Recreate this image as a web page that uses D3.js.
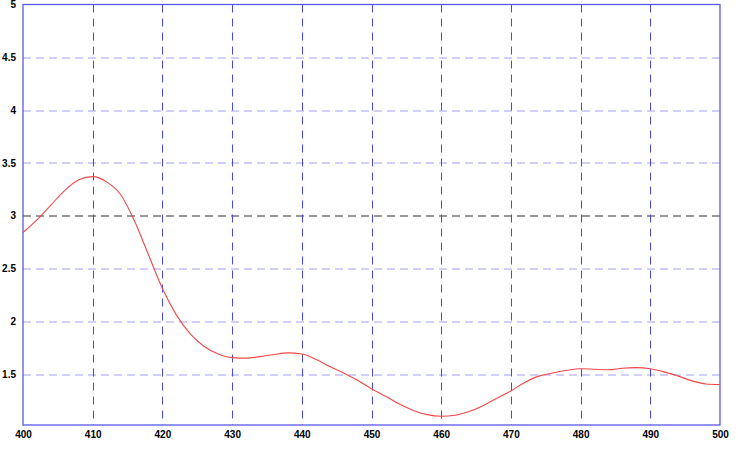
<!DOCTYPE html>
<html>
<head>
<meta charset="utf-8">
<script src="https://cdn.jsdelivr.net/npm/d3@7"></script>
<style>
  body { margin: 0; background: #fff; }
  .axis text { font-family: Arial, "Liberation Sans", sans-serif; font-size: 10px; font-weight: bold; fill: #000; }
  .axis path, .axis line { display: none; }
</style>
</head>
<body>
<svg width="738" height="449"></svg>
<script>
// spectrum (wavelength nm -> value)
const wavelength = [400, 402, 404, 406, 408, 410, 412, 414, 416, 418,
                    420, 422, 424, 426, 428, 430, 432, 434, 436, 438,
                    440, 442, 444, 446, 448, 450, 452, 454, 456, 458,
                    460, 462, 464, 466, 468, 470, 472, 474, 476, 478,
                    480, 482, 484, 486, 488, 490, 492, 494, 496, 498, 500];
const values = [2.84, 2.96, 3.10, 3.24, 3.34, 3.37, 3.32, 3.20, 2.95, 2.63,
                2.31, 2.06, 1.88, 1.76, 1.69, 1.655, 1.65, 1.665, 1.685, 1.70,
                1.69, 1.64, 1.57, 1.51, 1.44, 1.36, 1.29, 1.215, 1.155, 1.115,
                1.10, 1.11, 1.145, 1.20, 1.27, 1.34, 1.42, 1.48, 1.51, 1.535,
                1.55, 1.545, 1.54, 1.555, 1.56, 1.55, 1.52, 1.48, 1.435, 1.405, 1.40];
const xTicks = [400, 410, 420, 430, 440, 450, 460, 470, 480, 490, 500];
const yTicks = [1.5, 2, 2.5, 3, 3.5, 4, 4.5, 5];

const margin = {top: 4.5, right: 18, bottom: 24, left: 23};
const width = 738 - margin.left - margin.right;
const height = 449 - margin.top - margin.bottom;

const x = d3.scaleLinear().domain([400, 500]).range([0, width]);
const y = d3.scaleLinear().domain([1.017, 5]).range([height, 0]);

const chart = d3.select('svg').append('g')
    .attr('transform', 'translate(' + margin.left + ',' + margin.top + ')');

// horizontal grid
chart.selectAll('.hgrid')
    .data(yTicks.filter(d => d < 5)).enter()
    .append('line')
    .attr('x1', 0).attr('x2', width)
    .attr('y1', d => Math.round(y(d)) + 0.5).attr('y2', d => Math.round(y(d)) + 0.5)
    .attr('stroke', d => d == 3 ? '#333' : '#a0a0f4')
    .attr('stroke-width', 1)
    .attr('stroke-dasharray', '8,5');

// vertical grid
chart.selectAll('.vgrid')
    .data(xTicks.filter(d => d > 400 && d < 500)).enter()
    .append('line')
    .attr('x1', d => Math.round(x(d)) + 0.5).attr('x2', d => Math.round(x(d)) + 0.5)
    .attr('y1', 0).attr('y2', height)
    .attr('stroke', '#4848e6')
    .attr('stroke-width', 1)
    .attr('stroke-dasharray', '8,6');

// frame
chart.append('rect')
    .attr('x', 0).attr('y', 0)
    .attr('width', width).attr('height', height)
    .attr('fill', 'none')
    .attr('stroke', '#5a5ae6')
    .attr('stroke-width', 1.3);

const line = d3.line()
    .x((d, i) => x(wavelength[i]))
    .y(d => y(d))
    .curve(d3.curveMonotoneX);

chart.append('path')
    .datum(values)
    .attr('fill', 'none')
    .attr('stroke', '#f04848')
    .attr('stroke-width', 1.1)
    .attr('d', line);

// axes labels
const xAxis = d3.axisBottom(x).tickValues(xTicks).tickSize(0).tickPadding(6).tickFormat(d3.format('d'));
const yAxis = d3.axisLeft(y).tickValues(yTicks).tickSize(0).tickPadding(7).tickFormat(d => d);
chart.append('g').attr('class', 'axis').attr('transform', 'translate(0,' + height + ')').call(xAxis);
chart.append('g').attr('class', 'axis').call(yAxis);
</script>
</body>
</html>
